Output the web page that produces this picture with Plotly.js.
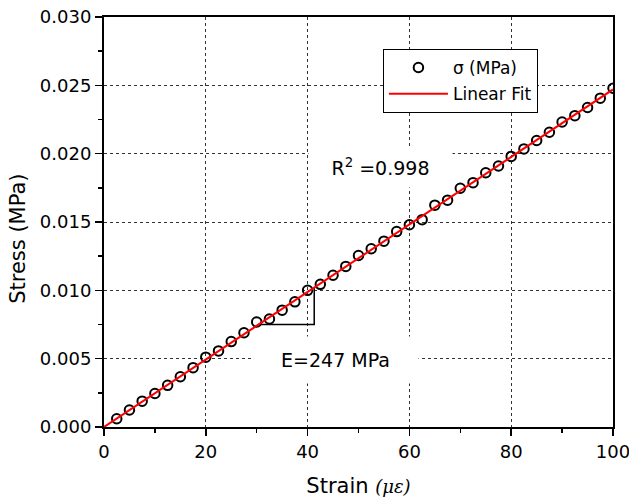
<!DOCTYPE html>
<html>
<head>
<meta charset="utf-8">
<script src="https://cdn.plot.ly/plotly-3.0.1.min.js"></script>
<style>html,body{margin:0;padding:0;background:#fff;}#chart{width:629px;height:504px;}</style>
</head>
<body>
<div id="chart"></div>
<script>
// Measured data (strain in micro-strain, stress in MPa)
var strain = [2.5, 5, 7.5, 10, 12.5, 15, 17.5, 20, 22.5, 25, 27.5, 30, 32.5, 35, 37.5, 40,
              42.5, 45, 47.5, 50, 52.5, 55, 57.5, 60, 62.5, 65, 67.5, 70, 72.5, 75, 77.5, 80,
              82.5, 85, 87.5, 90, 92.5, 95, 97.5, 100];
var stress = [0.00060, 0.00124, 0.00189, 0.00245, 0.00305, 0.00368, 0.00434, 0.00511,
              0.00557, 0.00625, 0.00690, 0.00768, 0.00790, 0.00855, 0.00916, 0.01000,
              0.01044, 0.01110, 0.01175, 0.01255, 0.01304, 0.01360, 0.01430, 0.01480,
              0.01517, 0.01623, 0.01660, 0.01747, 0.01788, 0.01860, 0.01910, 0.01980,
              0.02035, 0.02096, 0.02157, 0.02232, 0.02278, 0.02338, 0.02406, 0.02479];
// Linear fit end points
var fitX = [0, 100];
var fitY = [0, 0.0247];
// Slope triangle
var triX = [30.4, 41.3, 41.3];
var triY = [0.0075, 0.0075, 0.0102];
// Labels
var seriesName = "σ (MPa)";
var fitName = "Linear Fit";
var r2Text = "R<sup>2</sup> =0.998";
var modText = "E=247 MPa";

var F = "DejaVu Sans, Arial, sans-serif";

var traces = [
  {x: triX, y: triY, mode: "lines", line: {color: "#000", width: 1.5},
   showlegend: false, hoverinfo: "skip"},
  {x: strain, y: stress, name: seriesName, mode: "markers", legendgroup: "a",
   marker: {symbol: "circle-open", size: 9.5, color: "#000", line: {width: 2, color: "#000"}}},
  {x: fitX, y: fitY, name: fitName, mode: "lines", legendgroup: "b",
   line: {color: "#ff0000", width: 2}}
];

var axisCommon = {
  showline: true, linecolor: "#000", linewidth: 2, mirror: true,
  ticks: "outside", ticklen: 7, tickwidth: 1.5, tickcolor: "#000",
  showgrid: true, gridcolor: "#333", gridwidth: 1, griddash: "3px,3px",
  zeroline: false, ticklabeloverflow: "allow",
  tickfont: {family: F, size: 18, color: "#000"}
};

var layout = {
  width: 629, height: 504,
  margin: {l: 104, r: 16, t: 17, b: 77},
  paper_bgcolor: "#fff", plot_bgcolor: "#fff",
  font: {family: F, color: "#000"},
  xaxis: Object.assign({}, axisCommon, {
    range: [0, 100], dtick: 20, tick0: 0,
    minor: {dtick: 10, ticks: "outside", ticklen: 4, tickcolor: "#000", showgrid: false},
    title: {text: "Strain <span style='font-family:DejaVu Serif;font-size:18px'><i>(με)</i></span>",
            font: {family: F, size: 21, color: "#000"}, standoff: 18}
  }),
  yaxis: Object.assign({}, axisCommon, {
    range: [0, 0.030], dtick: 0.005, tick0: 0, tickformat: ".3f",
    minor: {dtick: 0.0025, ticks: "outside", ticklen: 4, tickcolor: "#000", showgrid: false},
    title: {text: "Stress (MPa)&nbsp;&nbsp;&nbsp;&nbsp;&nbsp;", font: {family: F, size: 21, color: "#000"}, standoff: 9}
  }),
  legend: {
    x: 0.548, y: 0.922, xanchor: "left", yanchor: "top",
    bgcolor: "#fff", bordercolor: "#000", borderwidth: 1,
    font: {family: F, size: 17, color: "#000"},
    traceorder: "grouped", tracegroupgap: 1, itemwidth: 59
  },
  annotations: [
    {x: 54.3, y: 0.01902, xref: "x", yref: "y", text: r2Text, showarrow: false,
     width: 143, height: 40, bgcolor: "#fff", borderpad: 0,
     font: {family: F, size: 19, color: "#000"}},
    {x: 45.5, y: 0.0049, xref: "x", yref: "y", text: modText, showarrow: false,
     width: 165, height: 46, bgcolor: "#fff", borderpad: 0,
     font: {family: F, size: 19, color: "#000"}}
  ],
  showlegend: true
};

Plotly.newPlot("chart", traces, layout, {displayModeBar: false, staticPlot: true});
</script>
</body>
</html>
